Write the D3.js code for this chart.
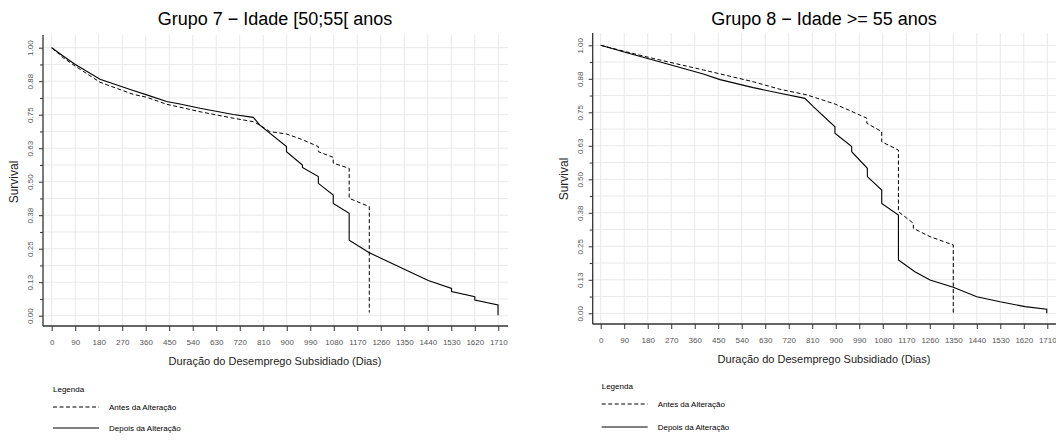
<!DOCTYPE html>
<html>
<head>
<meta charset="utf-8">
<script src="https://cdn.jsdelivr.net/npm/d3@7"></script>
<style>
  body { margin: 0; background: #fff; }
  svg { display: block; font-family: "Liberation Sans", Arial, sans-serif; }
</style>
</head>
<body>
<svg id="chart" width="1056" height="444"></svg>
<script>
// Tick values
const xTickValues = [0, 90, 180, 270, 360, 450, 540, 630, 720, 810, 900, 990, 1080, 1170, 1260, 1350, 1440, 1530, 1620, 1710];
const yTickValues = [0, 0.0625, 0.125, 0.1875, 0.25, 0.3125, 0.375, 0.4375, 0.5, 0.5625, 0.625, 0.6875, 0.75, 0.8125, 0.875, 0.9375, 1];

// Grupo 7 - antes (dashed)
const g7AntesDias = [0, 45, 89, 185, 312, 364, 440, 491, 568, 695, 772, 797, 835, 899, 957, 1021, 1021, 1078, 1078, 1139, 1139, 1216, 1216];
const g7AntesSurv = [1, 0.962, 0.932, 0.871, 0.826, 0.815, 0.789, 0.778, 0.761, 0.737, 0.724, 0.711, 0.687, 0.678, 0.658, 0.631, 0.612, 0.591, 0.569, 0.550, 0.438, 0.407, 0.012];
// Grupo 7 - depois (solid)
const g7DepoisDias = [0, 45, 89, 185, 312, 364, 440, 491, 568, 695, 772, 797, 899, 899, 960, 960, 1021, 1021, 1078, 1078, 1139, 1139, 1216, 1350, 1442, 1531, 1531, 1620, 1620, 1709, 1709];
const g7DepoisSurv = [1, 0.968, 0.938, 0.882, 0.840, 0.824, 0.799, 0.790, 0.774, 0.751, 0.740, 0.711, 0.631, 0.612, 0.562, 0.553, 0.519, 0.494, 0.450, 0.419, 0.382, 0.282, 0.235, 0.173, 0.131, 0.102, 0.090, 0.071, 0.058, 0.040, 0.002];

// Grupo 8 - antes (dashed)
const g8AntesDias = [0, 100, 201, 393, 584, 686, 789, 897, 1019, 1019, 1076, 1076, 1140, 1140, 1197, 1197, 1261, 1350, 1350];
const g8AntesSurv = [1, 0.975, 0.951, 0.908, 0.864, 0.836, 0.815, 0.781, 0.728, 0.709, 0.678, 0.640, 0.609, 0.379, 0.336, 0.317, 0.286, 0.255, 0.0];
// Grupo 8 - depois (solid)
const g8DepoisDias = [0, 100, 201, 393, 457, 584, 686, 782, 814, 897, 897, 961, 961, 1021, 1021, 1076, 1076, 1140, 1140, 1203, 1261, 1350, 1440, 1529, 1625, 1708, 1708];
const g8DepoisSurv = [1, 0.972, 0.945, 0.893, 0.872, 0.842, 0.821, 0.802, 0.771, 0.696, 0.672, 0.622, 0.603, 0.541, 0.510, 0.460, 0.410, 0.367, 0.199, 0.155, 0.124, 0.097, 0.062, 0.043, 0.025, 0.015, 0.0];

const svg = d3.select('#chart');

const panels = [
    {
        title: 'Grupo 7 \u2212 Idade [50;55[ anos',
        left: 43, right: 508, top: 35, bottom: 326,
        xRange: [51.7, 498.3], yRange: [315.7, 47.7],
        antes: d3.zip(g7AntesDias, g7AntesSurv),
        depois: d3.zip(g7DepoisDias, g7DepoisSurv),
        titleY: 25, xTitleY: 365, xLabelY: 342, yLabelX: 18, yLabelY: 182,
        legendX: 53, legendY: [389, 407, 428]
    },
    {
        title: 'Grupo 8 \u2212 Idade >= 55 anos',
        left: 592.7, right: 1056, top: 33, bottom: 324,
        xRange: [600.7, 1047.3], yRange: [313.3, 45.3],
        antes: d3.zip(g8AntesDias, g8AntesSurv),
        depois: d3.zip(g8DepoisDias, g8DepoisSurv),
        titleY: 25, xTitleY: 363, xLabelY: 340, yLabelX: 567.5, yLabelY: 179,
        legendX: 601.7, legendY: [386, 404, 427]
    }
];

panels.forEach(drawPanel);

function drawPanel(p) {
    const x = d3.scaleLinear().domain([0, 1710]).range(p.xRange);
    const y = d3.scaleLinear().domain([0, 1]).range(p.yRange);
    const g = svg.append('g');

    // grid
    g.selectAll('.vgrid')
        .data(xTickValues)
        .enter()
        .append('line')
        .attr('x1', d => x(d)).attr('x2', d => x(d))
        .attr('y1', p.top).attr('y2', p.bottom)
        .attr('stroke', '#e9e9e9')
        .attr('stroke-width', 1);

    g.selectAll('.hgrid')
        .data(yTickValues)
        .enter()
        .append('line')
        .attr('x1', p.left).attr('x2', p.right)
        .attr('y1', d => y(d)).attr('y2', d => y(d))
        .attr('stroke', '#e9e9e9')
        .attr('stroke-width', 1);

    // curves
    const line = d3.line().x(d => x(d[0])).y(d => y(d[1]));

    g.append('path')
        .datum(p.antes)
        .attr('d', line)
        .attr('fill', 'none')
        .attr('stroke', '#000')
        .attr('stroke-width', 1)
        .attr('stroke-dasharray', '4,2.5');

    g.append('path')
        .datum(p.depois)
        .attr('d', line)
        .attr('fill', 'none')
        .attr('stroke', '#000')
        .attr('stroke-width', 1.1);

    // x axis
    const xAxis = g.append('g')
        .attr('transform', `translate(0,${p.bottom})`)
        .call(d3.axisBottom(x).tickValues(xTickValues).tickSize(5).tickSizeOuter(0).tickFormat(d3.format('d')));
    xAxis.select('.domain').remove();
    xAxis.selectAll('line').attr('stroke', '#333');
    xAxis.selectAll('text')
        .attr('y', p.xLabelY - p.bottom)
        .attr('dy', '0.35em')
        .attr('fill', '#555')
        .style('font-size', '8px')
        .style('font-family', '"Liberation Sans", Arial, sans-serif');

    // y axis
    const yAxis = g.append('g')
        .attr('transform', `translate(${p.left},0)`)
        .call(d3.axisLeft(y).tickValues(yTickValues).tickSize(4).tickSizeOuter(0)
            .tickFormat(d => Math.round(d * 16) % 2 === 0 ? d.toFixed(2) : ''));
    yAxis.select('.domain').remove();
    yAxis.selectAll('line')
        .attr('stroke', '#333')
        .attr('x2', d => Math.round(d * 16) % 2 === 0 ? -4 : -3);
    yAxis.selectAll('text')
        .attr('x', 0).attr('dy', 0)
        .attr('transform', 'translate(-10,0) rotate(-90)')
        .attr('text-anchor', 'middle')
        .attr('fill', '#555')
        .style('font-size', '8px')
        .style('font-family', '"Liberation Sans", Arial, sans-serif');

    // axis lines
    g.append('line')
        .attr('x1', p.left).attr('x2', p.left)
        .attr('y1', p.top).attr('y2', p.bottom)
        .attr('stroke', '#333').attr('stroke-width', 1.3);
    g.append('line')
        .attr('x1', p.left).attr('x2', p.right)
        .attr('y1', p.bottom).attr('y2', p.bottom)
        .attr('stroke', '#333').attr('stroke-width', 1.3);

    // titles
    const cx = (p.xRange[0] + p.xRange[1]) / 2;
    g.append('text')
        .attr('x', cx).attr('y', p.titleY)
        .attr('text-anchor', 'middle')
        .style('font-size', '18px')
        .text(p.title);

    g.append('text')
        .attr('x', cx).attr('y', p.xTitleY)
        .attr('text-anchor', 'middle')
        .style('font-size', '11px')
        .attr('fill', '#222')
        .text('Duração do Desemprego Subsidiado (Dias)');

    g.append('text')
        .attr('transform', `translate(${p.yLabelX},${p.yLabelY}) rotate(-90)`)
        .attr('text-anchor', 'middle')
        .style('font-size', '12px')
        .attr('fill', '#222')
        .text('Survival');

    // legend
    const lg = g.append('g');
    lg.append('text')
        .attr('x', p.legendX).attr('y', p.legendY[0])
        .attr('dy', '0.35em')
        .style('font-size', '8px')
        .text('Legenda');

    const items = [
        {label: 'Antes da Alteração', dash: '4,2.5'},
        {label: 'Depois da Alteração', dash: null}
    ];
    items.forEach((it, i) => {
        const ly = p.legendY[i + 1];
        lg.append('line')
            .attr('x1', p.legendX).attr('x2', p.legendX + 46)
            .attr('y1', ly).attr('y2', ly)
            .attr('stroke', '#000')
            .attr('stroke-width', 1)
            .attr('stroke-dasharray', it.dash);
        lg.append('text')
            .attr('x', p.legendX + 56).attr('y', ly)
            .attr('dy', '0.35em')
            .style('font-size', '8px')
            .text(it.label);
    });
}
</script>
</body>
</html>
